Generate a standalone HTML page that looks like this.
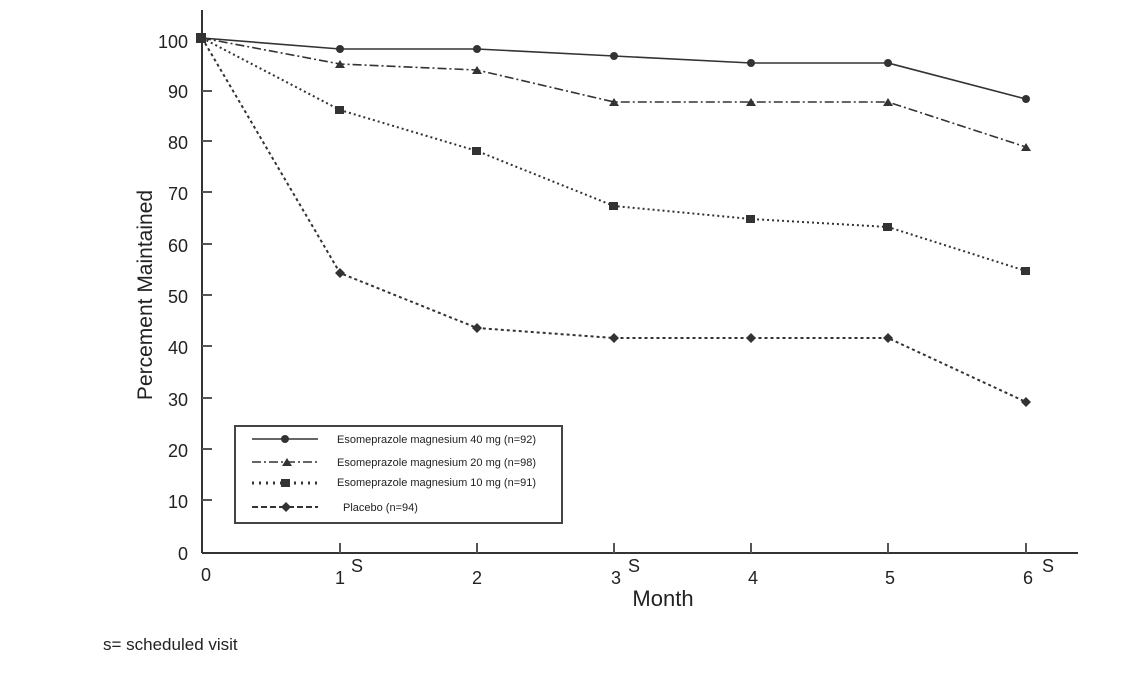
<!DOCTYPE html>
<html><head><style>body{margin:0;background:#fff}</style></head><body>
<svg width="1144" height="691" xmlns="http://www.w3.org/2000/svg" font-family="Liberation Sans, sans-serif" fill="#222">
<rect width="1144" height="691" fill="#fff"/>
<g stroke="#333" stroke-width="2">
<line x1="202" y1="10" x2="202" y2="553"/>
<line x1="202" y1="553" x2="1078" y2="553"/>
</g>
<g stroke="#555" stroke-width="2">
<line x1="202" y1="91" x2="212" y2="91"/><line x1="202" y1="141" x2="212" y2="141"/>
<line x1="202" y1="192" x2="212" y2="192"/><line x1="202" y1="244" x2="212" y2="244"/>
<line x1="202" y1="295" x2="212" y2="295"/><line x1="202" y1="346" x2="212" y2="346"/>
<line x1="202" y1="398" x2="212" y2="398"/><line x1="202" y1="449" x2="212" y2="449"/>
<line x1="202" y1="500" x2="212" y2="500"/>
<line x1="340" y1="543" x2="340" y2="553"/><line x1="477" y1="543" x2="477" y2="553"/>
<line x1="614" y1="543" x2="614" y2="553"/><line x1="751" y1="543" x2="751" y2="553"/>
<line x1="888" y1="543" x2="888" y2="553"/><line x1="1026" y1="543" x2="1026" y2="553"/>
</g>
<g font-size="18" text-anchor="end">
<text x="188" y="48">100</text><text x="188" y="98">90</text><text x="188" y="149">80</text>
<text x="188" y="200">70</text><text x="188" y="252">60</text><text x="188" y="303">50</text>
<text x="188" y="354">40</text><text x="188" y="406">30</text><text x="188" y="457">20</text>
<text x="188" y="508">10</text><text x="188" y="560">0</text>
</g>
<g font-size="18" text-anchor="middle">
<text x="206" y="581">0</text><text x="340" y="584">1</text><text x="477" y="584">2</text>
<text x="616" y="584">3</text><text x="753" y="584">4</text><text x="890" y="584">5</text><text x="1028" y="584">6</text>
<text x="357" y="572">S</text><text x="634" y="572">S</text><text x="1048" y="572">S</text>
</g>
<text x="663" y="606" font-size="22" text-anchor="middle">Month</text>
<text transform="translate(152,295) rotate(-90)" font-size="21" text-anchor="middle">Percement Maintained</text>
<text x="103" y="650" font-size="17">s= scheduled visit</text>
<g fill="none" stroke="#333">
<polyline points="202,38 340,49 477,49 614,56 751,63 888,63 1026,99" stroke-width="1.6"/>
<polyline points="202,38 340,64 477,70 614,102 751,102 888,102 1026,147" stroke-width="1.6" stroke-dasharray="9,3,2,3"/>
<polyline points="202,38 340,110 477,151 614,206 751,219 888,227 1026,271" stroke-width="2" stroke-dasharray="2,3"/>
<polyline points="202,38 340,273 477,328 614,338 751,338 888,338 1026,402" stroke-width="2" stroke-dasharray="3,3"/>
</g>
<g fill="#333">
<circle cx="340" cy="49" r="4"/><circle cx="477" cy="49" r="4"/><circle cx="614" cy="56" r="4"/><circle cx="751" cy="63" r="4"/><circle cx="888" cy="63" r="4"/><circle cx="1026" cy="99" r="4"/>
<path d="M340 60l5 8h-10zM477 66l5 8h-10zM614 98l5 8h-10zM751 98l5 8h-10zM888 98l5 8h-10zM1026 143l5 8h-10z"/>
<rect x="335" y="106" width="9" height="8"/><rect x="472" y="147" width="9" height="8"/><rect x="609" y="202" width="9" height="8"/><rect x="746" y="215" width="9" height="8"/><rect x="883" y="223" width="9" height="8"/><rect x="1021" y="267" width="9" height="8"/>
<path d="M340 268l5 5-5 5-5-5zM477 323l5 5-5 5-5-5zM614 333l5 5-5 5-5-5zM751 333l5 5-5 5-5-5zM888 333l5 5-5 5-5-5zM1026 397l5 5-5 5-5-5z"/>
<rect x="196" y="33" width="10" height="10"/>
</g>
<rect x="235" y="426" width="327" height="97" fill="#fff" stroke="#444" stroke-width="2"/>
<g stroke="#333" stroke-width="1.6">
<line x1="252" y1="439" x2="318" y2="439"/>
<line x1="252" y1="462" x2="318" y2="462" stroke-dasharray="9,3,2,3"/>
<line x1="252" y1="483" x2="318" y2="483" stroke-dasharray="2,5" stroke-width="3"/>
<line x1="252" y1="507" x2="318" y2="507" stroke-dasharray="6,3" stroke-width="2"/>
</g>
<g fill="#333">
<circle cx="285" cy="439" r="4"/><path d="M287 458l5 8h-10z"/><rect x="281" y="479" width="9" height="8"/><path d="M286 502l5 5-5 5-5-5z"/>
</g>
<g font-size="11">
<text x="337" y="443">Esomeprazole magnesium 40 mg (n=92)</text>
<text x="337" y="466">Esomeprazole magnesium 20 mg (n=98)</text>
<text x="337" y="486">Esomeprazole magnesium 10 mg (n=91)</text>
<text x="343" y="511">Placebo (n=94)</text>
</g>
</svg>
</body></html>
